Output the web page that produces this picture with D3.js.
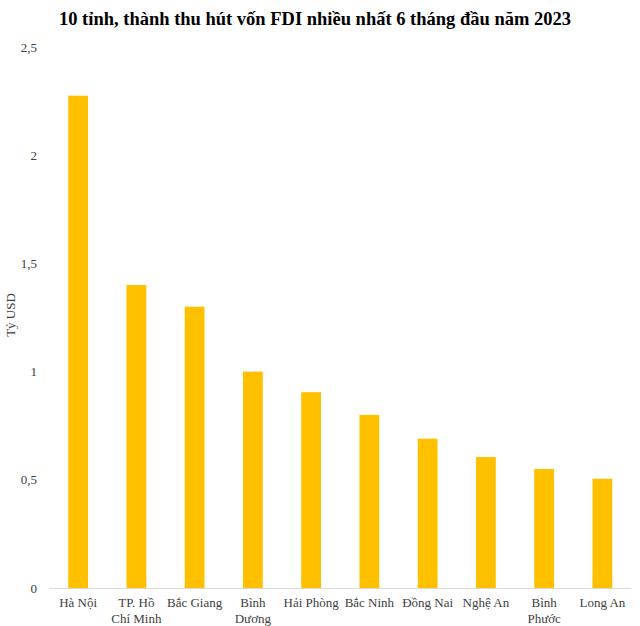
<!DOCTYPE html>
<html><head><meta charset="utf-8">
<script src="https://cdn.jsdelivr.net/npm/d3@7"></script>
<style>body{margin:0;background:#fff}svg{display:block}</style>
</head><body>
<svg id="c" width="640" height="626"></svg>
<script>
const title = "10 tỉnh, thành thu hút vốn FDI nhiều nhất 6 tháng đầu năm 2023";
const categories = ["Hà Nội", "TP. Hồ|Chí Minh", "Bắc Giang", "Bình|Dương", "Hải Phòng", "Bắc Ninh", "Đồng Nai", "Nghệ An", "Bình|Phước", "Long An"];
const values = [2.275, 1.40, 1.30, 1.00, 0.905, 0.80, 0.69, 0.605, 0.55, 0.505];
const yTicks = [0, 0.5, 1, 1.5, 2, 2.5];
const yLabel = "Tỷ USD";

(function () {
const svg = d3.select("#c");
const font = "'Times New Roman','Liberation Serif',serif";
const mLeft = 49, mRight = 631.5, mTop = 47, mBottom = 588;

const x = d3.scaleBand().domain(categories).range([mLeft, mRight]).paddingInner(0.66).paddingOuter(0.33);
const y = d3.scaleLinear().domain([0, 2.5]).range([mBottom, mTop]);

svg.append("text").attr("x", 315).attr("y", 25).attr("text-anchor", "middle")
  .attr("font-family", font).attr("font-weight", "bold").attr("font-size", 18.5).attr("fill", "#000").text(title);

svg.selectAll("rect.bar").data(values).join("rect").attr("class", "bar")
  .attr("x", (d, i) => x(categories[i])).attr("width", x.bandwidth())
  .attr("y", d => y(d)).attr("height", d => y(0) - y(d)).attr("fill", "#FFC000");

svg.append("line").attr("x1", mLeft).attr("x2", mRight).attr("y1", mBottom + 0.5).attr("y2", mBottom + 0.5)
  .attr("stroke", "#d9d9d9").attr("stroke-width", 1);

svg.selectAll("text.yt").data(yTicks).join("text").attr("class", "yt")
  .attr("x", 37).attr("y", d => y(d)).attr("dy", "0.35em").attr("text-anchor", "end")
  .attr("font-family", font).attr("font-size", 13).attr("fill", "#404040")
  .text(d => String(d).replace(".", ","));

svg.append("text").attr("transform", "translate(15,315) rotate(-90)").attr("text-anchor", "middle")
  .attr("font-family", font).attr("font-size", 13).attr("fill", "#404040").text(yLabel);

const xl = svg.selectAll("text.xl").data(categories).join("text").attr("class", "xl")
  .attr("x", d => x(d) + x.bandwidth() / 2).attr("y", 607).attr("text-anchor", "middle")
  .attr("font-family", font).attr("font-size", 13).attr("fill", "#404040");
xl.each(function (d) {
  d.split("|").forEach((s, j) => {
    d3.select(this).append("tspan").attr("x", x(d) + x.bandwidth() / 2).attr("dy", j ? 16 : 0).text(s);
  });
});
})();
</script>
</body></html>
